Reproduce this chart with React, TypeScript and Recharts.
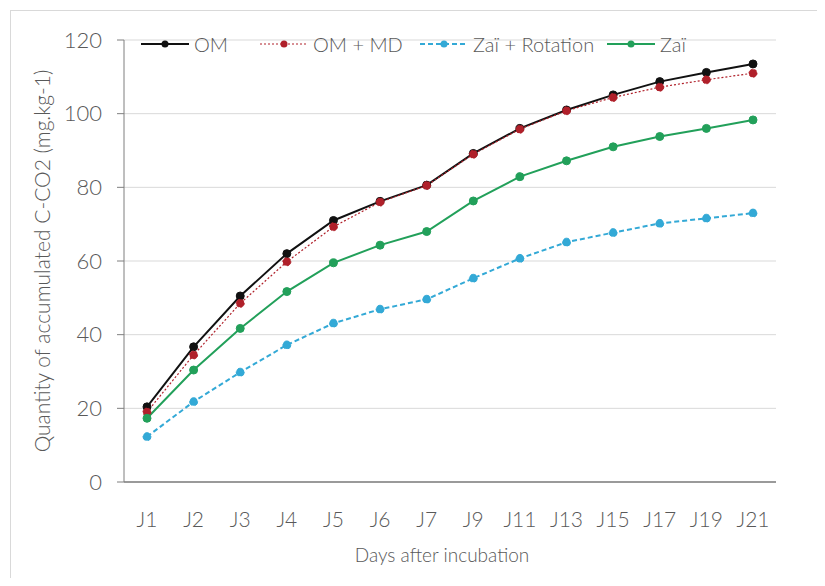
import React from "react";
import { LineChart, Line, XAxis, YAxis, CartesianGrid } from "recharts";

const days = ["J1", "J2", "J3", "J4", "J5", "J6", "J7", "J9", "J11", "J13", "J15", "J17", "J19", "J21"];
const om = [20.4, 36.7, 50.5, 62.0, 71.0, 76.2, 80.6, 89.2, 96.0, 101.0, 105.1, 108.7, 111.2, 113.5];
const omMd = [19.0, 34.5, 48.5, 59.8, 69.3, 76.0, 80.5, 89.0, 95.8, 100.8, 104.4, 107.2, 109.2, 111.0];
const zaiRot = [12.3, 21.8, 29.8, 37.2, 43.1, 46.9, 49.6, 55.3, 60.7, 65.1, 67.7, 70.2, 71.6, 73.0];
const zai = [17.3, 30.4, 41.7, 51.7, 59.5, 64.3, 68.0, 76.3, 82.9, 87.2, 91.0, 93.8, 96.0, 98.3];
const yTicks = [0, 20, 40, 60, 80, 100, 120];

const data = days.map((d, i) => ({
  day: d,
  om: om[i],
  omMd: omMd[i],
  zaiRot: zaiRot[i],
  zai: zai[i],
}));

const series = [
  { key: "om", name: "OM", color: "#111111", width: 2, dash: undefined, legendX: 133 },
  { key: "omMd", name: "OM + MD", color: "#b0202a", width: 1.2, dash: "2 2", legendX: 252 },
  { key: "zaiRot", name: "Zaï + Rotation", color: "#33a9d6", width: 2, dash: "5 3", legendX: 412 },
  { key: "zai", name: "Zaï", color: "#22a05a", width: 2, dash: undefined, legendX: 599 },
];

const FONT = "Lato, 'Open Sans', sans-serif";
const TEXT = "#595959";

// legend drawn over the top row of the plot, like the original
const ChartLegend = () => (
  <div style={{ position: "absolute", left: 0, top: 24, width: 809, height: 22 }}>
    {series.map((s) => (
      <div
        key={s.key}
        style={{
          position: "absolute",
          left: s.legendX,
          top: 0,
          display: "flex",
          alignItems: "center",
          whiteSpace: "nowrap",
        }}
      >
        <svg width={48} height={12}>
          <line x1={0} y1={6} x2={48} y2={6} stroke={s.color} strokeWidth={s.width} strokeDasharray={s.dash} />
          <circle cx={24} cy={6} r={3.5} fill={s.color} />
        </svg>
        <span style={{ marginLeft: 5, fontSize: 20, color: TEXT, fontFamily: FONT, fontWeight: 300 }}>{s.name}</span>
      </div>
    ))}
  </div>
);

const YTitle = (props: any) => {
  const { viewBox } = props;
  const cx = 37;
  const cy = viewBox.y + viewBox.height / 2;
  return (
    <text x={cx} y={cy} transform={`rotate(-90 ${cx} ${cy})`} textAnchor="middle" dominantBaseline="middle"
      fill={TEXT} fontSize={21} fontFamily={FONT} fontWeight={300}>
      Quantity of accumulated C-CO2 (mg.kg-1)
    </text>
  );
};

const XTitle = (props: any) => {
  const { viewBox } = props;
  const cx = viewBox.x + viewBox.width / 2 - 8;
  return (
    <text x={cx} y={549} textAnchor="middle" dominantBaseline="middle" fill={TEXT} fontSize={19} fontFamily={FONT} fontWeight={300}>
      Days after incubation
    </text>
  );
};

export default function App() {
  return (
    <div style={{ width: 809, height: 570, overflow: "hidden", position: "relative" }}>
      <div
        style={{
          position: "absolute",
          left: 2,
          top: 2,
          width: 830,
          height: 590,
          border: "1px solid #d9d9d9",
          boxSizing: "border-box",
        }}
      />
      <div style={{ position: "absolute", left: 0, top: 0 }}>
        <LineChart width={809} height={570} data={data} margin={{ top: 32, right: 41, left: 0, bottom: 0 }}>
          <CartesianGrid vertical={false} stroke="#d9d9d9" strokeWidth={1} />
          <XAxis
            dataKey="day"
            height={96}
            padding={{ left: 23, right: 23 }}
            tickLine={false}
            tickMargin={24}
            axisLine={{ stroke: "#7f7f7f", strokeWidth: 1.5 }}
            tick={{ fill: TEXT, fontSize: 21, fontFamily: FONT, fontWeight: 300 }}
            interval={0}
            label={<XTitle />}
          />
          <YAxis
            width={116}
            domain={[0, 120]}
            ticks={yTicks}
            tickSize={7}
            tickMargin={15}
            tickLine={{ stroke: "#7f7f7f" }}
            axisLine={{ stroke: "#7f7f7f" }}
            tick={{ fill: TEXT, fontSize: 22, fontFamily: FONT, fontWeight: 300 }}
            label={<YTitle />}
          />
          {series.map((s) => (
            <Line
              key={s.key}
              type="linear"
              dataKey={s.key}
              name={s.name}
              stroke={s.color}
              strokeWidth={s.width}
              strokeDasharray={s.dash}
              dot={{ r: 4, fill: s.color, stroke: s.color, strokeWidth: 1 }}
              activeDot={false}
              isAnimationActive={false}
            />
          ))}
        </LineChart>
      </div>
      <ChartLegend />
    </div>
  );
}
